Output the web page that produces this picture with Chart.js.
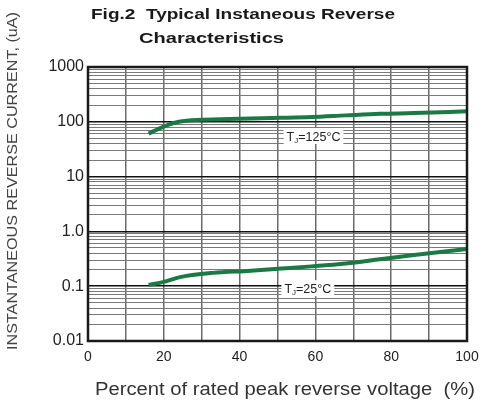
<!DOCTYPE html>
<html>
<head>
<meta charset="utf-8">
<script src="https://cdn.jsdelivr.net/npm/chart.js@4/dist/chart.umd.min.js"></script>
<style>
  html, body { margin: 0; padding: 0; background: #fff; }
  #wrap { width: 490px; height: 406px; position: relative; }
</style>
</head>
<body>
<div id="wrap"><canvas id="chart" width="490" height="406"></canvas></div>
<script>
'use strict';

// данные
const percent125 = [16, 20, 24, 30, 40, 51, 59, 68, 77, 86, 100];
const current125 = [61, 82, 100, 109, 114, 118, 122, 131, 140, 144, 155];

const percent25 = [16, 20, 24, 33, 42, 51, 59, 68, 77, 86, 100];
const current25 = [0.105, 0.12, 0.145, 0.175, 0.19, 0.21, 0.23, 0.26, 0.31, 0.37, 0.48];

const xTickValues = [0, 10, 20, 30, 40, 50, 60, 70, 80, 90, 100];
const xTickLabels = ['0', '', '20', '', '40', '', '60', '', '80', '', '100'];

const yDecades = [0.01, 0.1, 1, 10, 100, 1000];
const yDecadeLabels = ['0.01', '0.1', '1.0', '10', '100', '1000'];

const curveLabels = [
    { main: 'T', sub: 'J', rest: '=125°C', x: 59.5, y: 55 },
    { main: 'T', sub: 'J', rest: '=25°C', x: 58, y: 0.092 }
];

const FONT = '"Liberation Sans", Arial, sans-serif';
const GREEN = '#1b7a43';


// все линии сетки: декады + 2..9 внутри
function logGridValues() {
    const vals = [];
    for (let i = 0; i < yDecades.length; i++) {
        vals.push(yDecades[i]);
        if (i < yDecades.length - 1) {
            for (let m = 2; m <= 9; m++) vals.push(+(yDecades[i] * m).toPrecision(3));
        }
    }
    return vals;
}


// текст, растянутый по ширине до нужной длины
function stretchedText(ctx, text, x, y, width, align) {
    const natural = ctx.measureText(text).width;
    const k = width / natural;
    ctx.save();
    ctx.translate(x, y);
    ctx.scale(k, 1);
    ctx.textAlign = align;
    ctx.fillText(text, 0, 0);
    ctx.restore();
}


const textPlugin = {
    id: 'texts',
    afterDraw(chart) {
        const ctx = chart.ctx;
        const a = chart.chartArea;
        const xs = chart.scales.x, ys = chart.scales.y;

        // рамка
        ctx.save();
        ctx.strokeStyle = '#1a1a1a';
        ctx.lineWidth = 2.5;
        ctx.strokeRect(a.left, a.top, a.right - a.left, a.bottom - a.top);
        ctx.restore();

        // подписи кривых
        curveLabels.forEach(l => {
            const cx = xs.getPixelForValue(l.x);
            const cy = ys.getPixelForValue(l.y);
            ctx.save();
            ctx.font = '12.5px ' + FONT;
            const w1 = ctx.measureText(l.main).width;
            ctx.font = '8px ' + FONT;
            const w2 = ctx.measureText(l.sub).width;
            ctx.font = '12.5px ' + FONT;
            const w3 = ctx.measureText(l.rest).width;
            const w = w1 + w2 + w3;
            ctx.fillStyle = '#fff';
            ctx.fillRect(cx - w / 2 - 3, cy - 8, w + 6, 16);
            ctx.fillStyle = '#222';
            ctx.textBaseline = 'alphabetic';
            let x = cx - w / 2;
            ctx.fillText(l.main, x, cy + 4.5);
            x += w1;
            ctx.font = '8px ' + FONT;
            ctx.fillText(l.sub, x, cy + 6.5);
            x += w2;
            ctx.font = '12.5px ' + FONT;
            ctx.fillText(l.rest, x, cy + 4.5);
            ctx.restore();
        });

        // заголовок
        ctx.save();
        ctx.fillStyle = '#1a1a1a';
        ctx.font = 'bold 15.5px ' + FONT;
        ctx.textBaseline = 'alphabetic';
        stretchedText(ctx, 'Fig.2  Typical Instaneous Reverse', 91, 18.5, 304, 'left');
        stretchedText(ctx, 'Characteristics', 139, 42.5, 145, 'left');
        ctx.restore();

        // подписи осей
        ctx.save();
        ctx.fillStyle = '#333';
        ctx.font = '17.5px ' + FONT;
        ctx.textBaseline = 'middle';
        stretchedText(ctx, 'Percent of rated peak reverse voltage  (%)', 285, 390, 380, 'center');
        ctx.translate(13, 181);
        ctx.rotate(-Math.PI / 2);
        ctx.font = '14px ' + FONT;
        ctx.fillStyle = '#444';
        stretchedText(ctx, 'INSTANTANEOUS REVERSE CURRENT, (uA)', 0, 0, 338, 'center');
        ctx.restore();
    }
};


function makeSeries(xs, ys) {
    return xs.map((x, i) => ({ x: x, y: ys[i] }));
}


document.addEventListener('DOMContentLoaded', () => {
    const ctx = document.getElementById('chart').getContext('2d');

    new Chart(ctx, {
        type: 'line',
        data: {
            datasets: [{
                label: '125',
                data: makeSeries(percent125, current125),
                borderColor: GREEN,
                borderWidth: 4,
                pointRadius: 0,
                cubicInterpolationMode: 'monotone',
                fill: false
            }, {
                label: '25',
                data: makeSeries(percent25, current25),
                borderColor: GREEN,
                borderWidth: 4,
                pointRadius: 0,
                cubicInterpolationMode: 'monotone',
                fill: false
            }]
        },
        options: {
            responsive: false,
            animation: false,
            layout: { padding: { left: 0, top: 67, right: 23, bottom: 0 } },
            plugins: {
                legend: { display: false },
                title: { display: false },
                tooltip: { enabled: false }
            },
            scales: {
                x: {
                    type: 'linear',
                    min: 0,
                    max: 100,
                    afterFit: s => { s.height = 65; },
                    afterBuildTicks: s => { s.ticks = xTickValues.map(v => ({ value: v })); },
                    grid: { color: '#6a6a6a', lineWidth: 1.5, drawTicks: false },
                    border: { display: false },
                    ticks: {
                        autoSkip: false,
                        maxRotation: 0,
                        padding: 8,
                        color: '#222',
                        font: { family: FONT, size: 14 },
                        callback: (value) => {
                            const i = xTickValues.indexOf(value);
                            return i >= 0 ? xTickLabels[i] : '';
                        }
                    }
                },
                y: {
                    type: 'logarithmic',
                    min: 0.01,
                    max: 1000,
                    afterFit: s => { s.width = 88; },
                    afterBuildTicks: s => { s.ticks = logGridValues().map(v => ({ value: v })); },
                    grid: {
                        drawTicks: false,
                        color: c => yDecades.includes(c.tick.value) ? '#111' : '#7a7a7a',
                        lineWidth: c => yDecades.includes(c.tick.value) ? 1.5 : 1
                    },
                    border: { display: false },
                    ticks: {
                        autoSkip: false,
                        padding: 4,
                        color: '#222',
                        font: { family: FONT, size: 16 },
                        callback: (value) => {
                            const i = yDecades.indexOf(value);
                            return i >= 0 ? yDecadeLabels[i] : '';
                        }
                    }
                }
            }
        },
        plugins: [textPlugin]
    });
});
</script>
</body>
</html>
